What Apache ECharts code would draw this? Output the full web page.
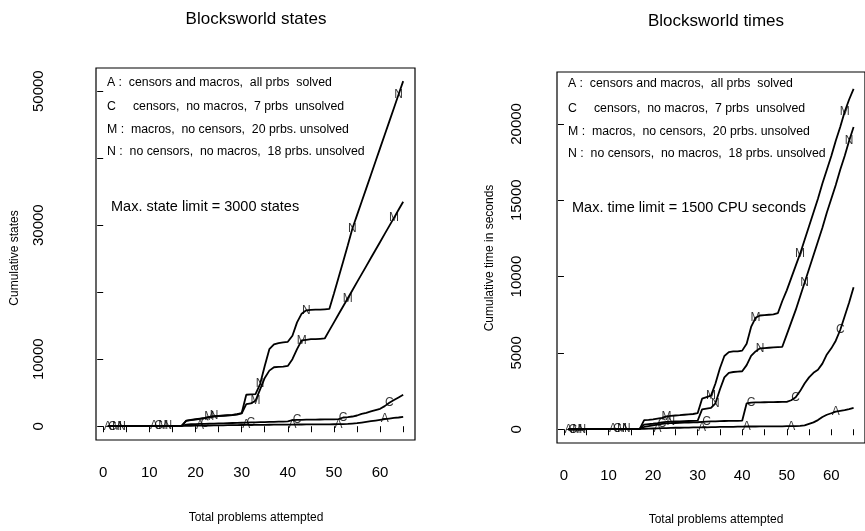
<!DOCTYPE html>
<html>
<head>
<meta charset="utf-8">
<title>Blocksworld states / times</title>
<script src="https://cdn.jsdelivr.net/npm/echarts@6/dist/echarts.min.js"></script>
<style>
html, body { margin: 0; padding: 0; background: #fff; }
#chart { width: 865px; height: 531px; }
</style>
</head>
<body>
<div id="chart"></div>
<script type="text/javascript">

// problems attempted, 1..65
var problems = [1,2,3,4,5,6,7,8,9,10,11,12,13,14,15,16,17,18,19,20,
    21,22,23,24,25,26,27,28,29,30,31,32,33,34,35,36,37,38,39,40,
    41,42,43,44,45,46,47,48,49,50,51,52,53,54,55,56,57,58,59,60,
    61,62,63,64,65];

// cumulative states (left panel)
var statesA = [0,0,5,5,10,10,15,15,20,20, 25,25,30,30,35,40,45,60,70,80,
    90,100,110,120,130,140,150,160,170,180, 190,200,205,210,215,220,225,230,235,240,
    250,255,260,265,270,275,280,285,290,295, 300,320,350,400,450,550,650,750,850,950,
    1050,1150,1250,1300,1400];
var statesC = [0,0,5,5,10,10,15,15,20,20, 25,25,30,30,35,40,50,250,300,320,
    340,360,380,400,420,440,460,480,500,520, 540,560,580,600,620,640,660,680,700,720,
    900,950,960,970,980,990,1000,1010,1020,1030, 1050,1300,1350,1450,1600,1850,2000,2200,2400,2600,
    3000,3500,3900,4300,4700];
var statesM = [0,0,5,5,10,10,15,15,20,20, 25,25,30,30,35,40,50,800,900,1000,
    1100,1200,1350,1450,1500,1550,1600,1650,1750,1900, 3300,3400,3800,5500,7200,8300,8800,8850,8900,9000,
    10000,11500,12800,12900,13000,13000,13050,13100,14300,15500, 16700,17900,19100,20300,21500,22700,23900,25100,26300,27500,
    28700,29900,31100,32300,33500];
var statesN = [0,0,5,5,10,10,15,15,20,20, 25,25,30,30,35,40,50,850,950,1050,
    1150,1250,1400,1500,1550,1600,1650,1700,1800,1950, 4700,4750,4800,6300,9000,11500,12200,12400,12500,12600,
    13500,15500,16800,17300,17350,17400,17400,17450,17500,19800, 22200,24600,27000,29500,31500,33500,35500,37500,39500,41500,
    43500,45500,47500,49500,51500];

// cumulative time in seconds (right panel)
var timesA = [0,0,0,0,5,5,5,5,10,10, 10,10,15,15,15,20,20,30,40,50,
    60,70,80,90,100,100,110,110,120,120, 130,130,140,140,150,150,160,160,170,170,
    180,180,180,185,185,190,190,195,195,200, 200,200,220,250,350,450,600,800,950,1050,
    1150,1200,1250,1320,1400];
var timesC = [0,0,0,0,5,5,5,5,10,10, 10,10,15,15,20,20,30,150,200,250,
    300,350,380,400,410,420,430,440,450,460, 480,500,510,520,530,540,545,550,555,560,
    1700,1750,1760,1765,1770,1775,1780,1785,1790,1800, 1900,2100,2500,3000,3400,3700,3900,4300,4900,5300,
    5800,6500,7400,8300,9300];
var timesM = [0,0,0,0,5,5,5,5,10,10, 10,10,15,15,20,20,30,600,620,650,
    700,750,850,880,900,920,950,980,1000,1050, 2000,2100,2200,3000,4000,4800,5050,5100,5100,5150,
    5600,6700,7300,7450,7480,7500,7520,7600,8400,9100, 9900,10700,11500,12400,13300,14200,15100,16100,17000,17900,
    18900,19800,20800,21600,22300];
var timesN = [0,0,0,0,5,5,5,5,10,10, 10,10,15,15,20,20,30,300,330,360,
    400,450,480,500,510,520,530,540,550,560, 1300,1350,1400,1700,2600,3400,3700,3750,3780,3800,
    4200,4800,5100,5300,5320,5340,5360,5380,5400,6200, 7000,7800,8700,9600,10500,11400,12300,13200,14200,15100,
    16000,17000,17900,18900,19800];

// letters plotted on each curve every 10th problem
var letters = ['A', 'C', 'M', 'N'];
var letterAt = {
    A: [1,11,21,31,41,51,61],
    C: [2,12,22,32,42,52,62],
    M: [3,13,23,33,43,53,63],
    N: [4,14,24,34,44,54,64]
};

var legendLines = [
    'A :  censors and macros,  all prbs  solved',
    'C     censors,  no macros,  7 prbs  unsolved',
    'M :  macros,  no censors,  20 prbs. unsolved',
    'N :  no censors,  no macros,  18 prbs. unsolved'
];

var xTicks = [0,5,10,15,20,25,30,35,40,45,50,55,60,65];
var xLabels = [0,10,20,30,40,50,60];
var statesTicks = [0,10000,20000,30000,40000,50000];
var statesLabels = [0,10000,30000,50000];
var timesTicks = [0,5000,10000,15000,20000];

var FONT = '"Liberation Sans", Arial, sans-serif';

var chart = echarts.init(document.getElementById('chart'));

function makeX(gridIndex) {
    return {
        gridIndex: gridIndex,
        type: 'value',
        min: -1.56,
        max: 67.56,
        axisLine: {show: false},
        splitLine: {show: false},
        axisTick: {show: true, length: 6, customValues: xTicks, lineStyle: {color: '#000', width: 1}},
        axisLabel: {customValues: xLabels, margin: 25, fontSize: 15, color: '#000', fontFamily: FONT}
    };
}

function makeY(gridIndex, min, max, ticks, labels, margin) {
    return {
        gridIndex: gridIndex,
        type: 'value',
        min: min,
        max: max,
        axisLine: {show: false},
        splitLine: {show: false},
        axisTick: {show: true, length: 6, customValues: ticks, lineStyle: {color: '#000', width: 1}},
        axisLabel: {
            customValues: labels, rotate: 90, margin: margin, fontSize: 15, color: '#000', fontFamily: FONT,
            formatter: function (v) { return String(v); }
        }
    };
}

function panelSeries(gridIndex, curves) {
    var out = [];
    letters.forEach(function (key, k) {
        var vals = curves[k];
        var pts = [];
        for (var i = 0; i < problems.length; i++) pts.push([problems[i], vals[i]]);
        out.push({
            type: 'line',
            xAxisIndex: gridIndex,
            yAxisIndex: gridIndex,
            data: pts,
            symbol: 'none',
            lineStyle: {color: '#000', width: 1.8},
            silent: true,
            z: 2
        });
        var marks = [];
        letterAt[key].forEach(function (p) {
            var idx = problems.indexOf(p);
            marks.push([p, vals[idx], key]);
        });
        out.push({
            type: 'scatter',
            xAxisIndex: gridIndex,
            yAxisIndex: gridIndex,
            data: marks,
            symbolSize: 1,
            itemStyle: {color: 'rgba(0,0,0,0)'},
            label: {
                show: true,
                position: 'inside',
                formatter: function (p) { return p.value[2]; },
                color: '#000',
                fontSize: 12,
                fontFamily: FONT
            },
            silent: true,
            z: 3
        });
    });
    return out;
}

function legendText(x, ys) {
    return legendLines.map(function (t, i) {
        return {
            type: 'text', left: x, top: ys[i] - 7,
            style: {text: t, fill: '#000', font: '12.3px ' + FONT}
        };
    });
}

var graphics = [
    {type: 'text', x: 256, y: 19, style: {text: 'Blocksworld states', fill: '#000', font: '17px ' + FONT, textAlign: 'center', textVerticalAlign: 'middle'}},
    {type: 'text', x: 716, y: 21, style: {text: 'Blocksworld times', fill: '#000', font: '17px ' + FONT, textAlign: 'center', textVerticalAlign: 'middle'}},
    {type: 'text', x: 256, y: 518, style: {text: 'Total problems attempted', fill: '#000', font: '12px ' + FONT, textAlign: 'center', textVerticalAlign: 'middle'}},
    {type: 'text', x: 716, y: 520, style: {text: 'Total problems attempted', fill: '#000', font: '12px ' + FONT, textAlign: 'center', textVerticalAlign: 'middle'}},
    {type: 'text', x: 15, y: 258, rotation: Math.PI / 2, style: {text: 'Cumulative states', fill: '#000', font: '12px ' + FONT, textAlign: 'center', textVerticalAlign: 'middle'}},
    {type: 'text', x: 490, y: 258, rotation: Math.PI / 2, style: {text: 'Cumulative time in seconds', fill: '#000', font: '12px ' + FONT, textAlign: 'center', textVerticalAlign: 'middle'}},
    {type: 'text', left: 111, top: 199, style: {text: 'Max. state limit = 3000 states', fill: '#000', font: '14.5px ' + FONT}},
    {type: 'text', left: 572, top: 200, style: {text: 'Max. time limit = 1500 CPU seconds', fill: '#000', font: '14.5px ' + FONT}}
].concat(legendText(107, [84, 108, 131, 153])).concat(legendText(568, [85, 110, 133, 155]));

var option = {
    animation: false,
    backgroundColor: '#fff',
    grid: [
        {left: 96, top: 68, width: 319, height: 372, show: true, borderColor: '#000', borderWidth: 1.2, backgroundColor: 'transparent'},
        {left: 557, top: 72, width: 319, height: 371, show: true, borderColor: '#000', borderWidth: 1.2, backgroundColor: 'transparent'}
    ],
    xAxis: [makeX(0), makeX(1)],
    yAxis: [
        makeY(0, -2056, 53460, statesTicks, statesLabels, 50),
        makeY(1, -900, 23400, timesTicks, timesTicks, 33)
    ],
    series: panelSeries(0, [statesA, statesC, statesM, statesN])
        .concat(panelSeries(1, [timesA, timesC, timesM, timesN])),
    graphic: graphics
};

chart.setOption(option);

</script>
</body>
</html>
